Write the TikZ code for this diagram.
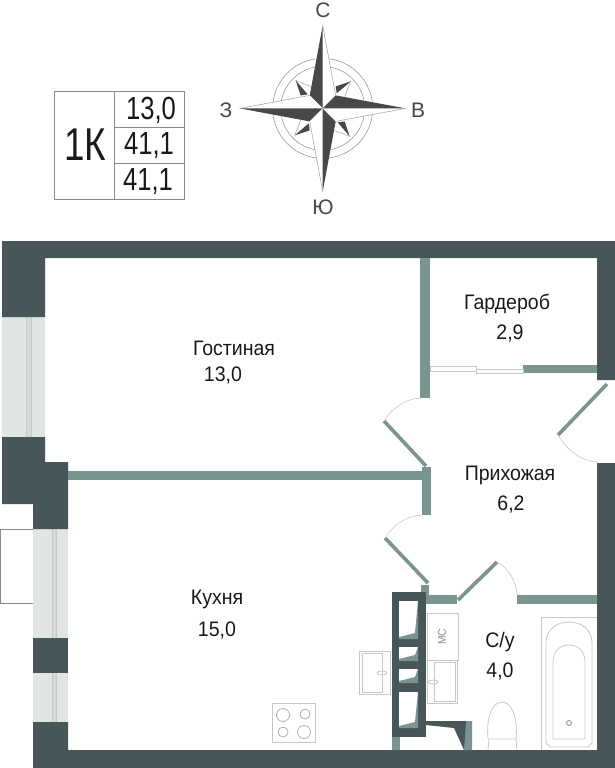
\documentclass[tikz,border=0pt]{standalone}
\usepackage{fontspec}
\setmainfont[FakeStretch=0.93]{Liberation Sans}
\newfontfamily\tablefont[FakeStretch=0.8]{Liberation Sans}
\newfontfamily\rosefont{Liberation Sans}
\definecolor{walldark}{HTML}{475759}
\definecolor{wallmid}{HTML}{7C9490}
\definecolor{glasspale}{HTML}{DFE6E3}
\definecolor{fixline}{HTML}{C6C9C8}
\definecolor{tableline}{HTML}{8A8A8A}
\definecolor{rosedark}{HTML}{484848}
\tikzset{
roomlabel/.style={inner sep=0pt, font=\fontsize{21}{21}\selectfont, text=black!90},
tablelabel/.style={inner sep=0pt, font=\tablefont\fontsize{32}{32}\selectfont, text=black!90},
roselabel/.style={inner sep=0pt, font=\rosefont\fontsize{21}{21}\selectfont, text=rosedark},
fixture/.style={draw=fixline, line width=0.8pt},
doorleaf/.style={draw=wallmid, line width=3.6pt},
doorswing/.style={draw=fixline, line width=0.6pt},
railbar/.style={fill=fixline!70, draw=fixline, line width=0.5pt}
}
\begin{document}
\begin{tikzpicture}[x=1pt, y=-1pt]
\useasboundingbox (0,0) rectangle (615,768);
\fill [glasspale] (2,317) rectangle (45,437);
\fill [glasspale] (33,529) rectangle (68,638);
\fill [glasspale] (33,673) rectangle (68,722);
\draw [railbar] (26,315) rectangle (31,439);
\draw [railbar] (52,528) rectangle (56,640);
\draw [railbar] (52,672) rectangle (56,722);
\draw [tableline, line width=0.8pt] (33,529) -- (0.5,529) -- (0.5,603) -- (33,603);
\fill [walldark] (2,241) -- (615,241) -- (615,380) -- (597,380) -- (597,258) -- (45,258) -- (45,317) -- (2,317) -- cycle;
\fill [walldark] (2,437) -- (45,437) -- (45,462) -- (68,462) -- (68,529) -- (33,529) -- (33,504) -- (2,504) -- cycle;
\fill [walldark] (33,638) rectangle (68,673);
\fill [walldark] (33,722) -- (68,722) -- (68,750) -- (597,750) -- (597,463) -- (615,463) -- (615,768) -- (33,768) -- cycle;
\fill [wallmid] (420,258) rectangle (430,398);
\fill [wallmid] (68,471) rectangle (422,480);
\fill [wallmid] (422,467) rectangle (431,515);
\fill [wallmid] (523,365) rectangle (597,373);
\fill [wallmid] (421,585) rectangle (429,596);
\fill [wallmid] (426,595) rectangle (457,604);
\fill [wallmid] (517,595) rectangle (597,604);
\fill [wallmid] (392,735) rectangle (400,750);
\fill [wallmid] (426,721) -- (472,721) -- (472,750) -- (464,750) -- (464,725) -- (426,725) -- cycle;
\fill [walldark] (426,721) -- (466,721) -- (464,750) -- (454,728) -- (426,725) -- cycle;
\draw [fixture, line width=0.6pt] (430,366) rectangle (476,371);
\draw [fixture, line width=0.6pt] (476,369) rectangle (523,373);
\draw [doorleaf] (426,466) -- (384,421);
\draw [doorleaf] (607,384) -- (558,435);
\draw [doorleaf] (428,583) -- (385,538);
\draw [doorleaf] (458,600) -- (497,562);
\draw [doorswing] (384,421) .. controls (393,407) and (406,399) .. (420,398);
\draw [doorswing] (558,435) .. controls (567,450) and (581,461) .. (597,462);
\draw [doorswing] (385,538) .. controls (393,525) and (406,516) .. (422,515);
\draw [doorswing] (497,562) .. controls (508,568) and (516,580) .. (517,595);
\fill [walldark] (392,592) rectangle (426,737);
\foreach \holetop/\holebot in {601/639, 647/661, 669/683, 692/728} {
\fill [white] (399,\holetop) rectangle (418,\holebot);
\fill [wallmid] (418,\holetop) -- (415,\holebot-6) -- (399,\holebot-2) -- (399,\holebot) -- (418,\holebot) -- cycle;
}
\draw [fixture] (427,613) rectangle (458,660);
\node (mc) [inner sep=0pt, rotate=90, text=tableline, font=\fontsize{11}{11}\selectfont] at (442,637) {МС};
\draw [fixture] (427,660) rectangle (457,703);
\draw [fixture] (434,662) rectangle (455,701);
\draw [fixture] (433,682) ellipse (5 and 2);
\draw [fixture] (359,651) rectangle (390,694);
\draw [fixture] (362,653) rectangle (382,692);
\draw [fixture] (382,673) ellipse (5 and 2);
\draw [fixture] (488,739) .. controls (486,718) and (492,702) .. (502,702) .. controls (512,702) and (518,718) .. (516,739);
\draw [fixture] (488,750) -- (489,739) -- (516,739) -- (517,750);
\draw [fixture] (597,617) -- (541,617) -- (541,750);
\draw [fixture] (546,643) .. controls (546,630) and (556,622) .. (569,622) .. controls (582,622) and (592,630) .. (592,643) -- (592,743) -- (588,747) -- (550,747) -- (546,743) -- cycle;
\draw [fixture] (553,662) .. controls (553,651) and (560,645) .. (569,645) .. controls (578,645) and (585,651) .. (585,662) -- (585,739) -- (553,739) -- cycle;
\draw [fixture, draw=tableline] (569,723) circle (2.5);
\draw [fixture] (272,703) rectangle (315,742);
\draw [fixture, draw=tableline!70] (283,715) circle (6.5);
\draw [fixture, draw=tableline!70] (305,714) circle (5);
\draw [fixture, draw=tableline!70] (283,732) circle (5);
\draw [fixture, draw=tableline!70] (304,732) circle (6.5);
\draw [tableline, line width=0.8pt] (54,91) rectangle (184,199);
\draw [tableline, line width=0.8pt] (114,91) -- (114,199) (114,127) -- (184,127) (114,163) -- (184,163);
\node (plantype) [inner sep=0pt, font=\tablefont\fontsize{46}{46}\selectfont, text=black!90] at (85,145) {1К};
\node (livingtotal) [tablelabel] at (151,110) {13,0};
\node (areatotal) [tablelabel] at (149,146) {41,1};
\node (areasum) [tablelabel] at (148,182) {41,1};
\draw [fixline!70!black, line width=0.5pt] (322.7,108.4) circle (50);
\draw [fixline!70!black, line width=0.5pt] (322.7,108.4) circle (42);
\begin{scope}[shift={(322.7,108.4)}]
\foreach \a in {0,90,180,270} {
\begin{scope}[rotate=\a]
\fill [white] (28,-27) -- (14,-15) -- (22,-12) -- cycle;
\draw [fixline!70!black, line width=0.4pt] (28,-27) -- (22,-12);
\fill [rosedark] (28,-27) -- (13,-22) -- (14,-15) -- cycle;
\end{scope}
}
\foreach \a in {0,90,180,270} {
\begin{scope}[rotate=\a]
\fill [white] (0,0) -- (13,-13) -- (0,-83) -- (-13,-13) -- cycle;
\fill [rosedark] (0,0) -- (-13,-13) -- (0,-83) -- cycle;
\draw [fixline!70!black, line width=0.4pt] (13,-13) -- (0,-83);
\end{scope}
}
\end{scope}
\node (north) [roselabel] at (323,10) {С};
\node (south) [roselabel] at (323,207) {Ю};
\node (west) [roselabel] at (226,110) {З};
\node (east) [roselabel] at (418,110) {В};
\node (living) [roomlabel] at (234,348) {Гостиная};
\node (livingarea) [roomlabel] at (223,376) {13,0};
\node (ward) [roomlabel] at (507,304) {Гардероб};
\node (wardarea) [roomlabel] at (510,334) {2,9};
\node (hall) [roomlabel] at (510,475) {Прихожая};
\node (hallarea) [roomlabel] at (511,505) {6,2};
\node (kitchen) [roomlabel] at (217,599) {Кухня};
\node (kitchenarea) [roomlabel] at (217,631) {15,0};
\node (bath) [roomlabel] at (500,642) {С/у};
\node (batharea) [roomlabel] at (500,672) {4,0};
\end{tikzpicture}
\end{document}
